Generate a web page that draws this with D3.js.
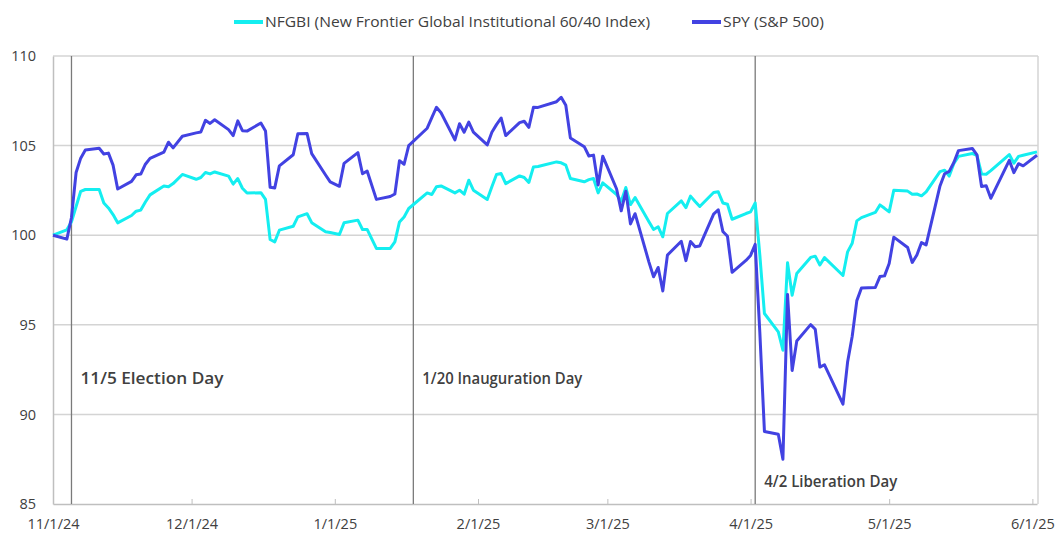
<!DOCTYPE html>
<html>
<head>
<meta charset="utf-8">
<script src="https://cdn.jsdelivr.net/npm/d3@7"></script>
<style>
  body { margin: 0; background: #fff; }
  svg text { font-family: "Open Sans", "Noto Sans", sans-serif; fill: #404040; }
</style>
</head>
<body>
<svg id="chart"></svg>
<script>
// Trading days, 11/1/24 - 6/2/25
const dates = [
  "11/1/24","11/4/24","11/5/24","11/6/24","11/7/24","11/8/24","11/11/24","11/12/24","11/13/24","11/14/24",
  "11/15/24","11/18/24","11/19/24","11/20/24","11/21/24","11/22/24","11/25/24","11/26/24","11/27/24","11/29/24",
  "12/2/24","12/3/24","12/4/24","12/5/24","12/6/24","12/9/24","12/10/24","12/11/24","12/12/24","12/13/24",
  "12/16/24","12/17/24","12/18/24","12/19/24","12/20/24","12/23/24","12/24/24","12/26/24","12/27/24","12/30/24","12/31/24",
  "1/2/25","1/3/25","1/6/25","1/7/25","1/8/25","1/10/25","1/13/25","1/14/25","1/15/25","1/16/25",
  "1/17/25","1/21/25","1/22/25","1/23/25","1/24/25","1/27/25","1/28/25","1/29/25","1/30/25","1/31/25",
  "2/3/25","2/4/25","2/5/25","2/6/25","2/7/25","2/10/25","2/11/25","2/12/25","2/13/25","2/14/25",
  "2/18/25","2/19/25","2/20/25","2/21/25","2/24/25","2/25/25","2/26/25","2/27/25","2/28/25",
  "3/3/25","3/4/25","3/5/25","3/6/25","3/7/25","3/10/25","3/11/25","3/12/25","3/13/25","3/14/25",
  "3/17/25","3/18/25","3/19/25","3/20/25","3/21/25","3/24/25","3/25/25","3/26/25","3/27/25","3/28/25","3/31/25",
  "4/1/25","4/2/25","4/3/25","4/4/25","4/7/25","4/8/25","4/9/25","4/10/25","4/11/25","4/14/25",
  "4/15/25","4/16/25","4/17/25","4/21/25","4/22/25","4/23/25","4/24/25","4/25/25","4/28/25","4/29/25","4/30/25",
  "5/1/25","5/2/25","5/5/25","5/6/25","5/7/25","5/8/25","5/9/25","5/12/25","5/13/25","5/14/25",
  "5/15/25","5/16/25","5/19/25","5/20/25","5/21/25","5/22/25","5/23/25","5/27/25","5/28/25","5/29/25","5/30/25",
  "6/2/25"
];

// NFGBI (New Frontier Global Institutional 60/40 Index), rebased to 100
const nfgbi = [
  100.00,100.30,100.75,101.60,102.45,102.55,102.55,101.80,101.52,101.15,
  100.69,101.10,101.34,101.40,101.85,102.25,102.75,102.70,102.88,103.39,
  103.12,103.22,103.50,103.42,103.53,103.30,102.85,103.16,102.62,102.35,
  102.37,102.00,99.76,99.63,100.28,100.50,101.02,101.20,100.70,100.19,100.15,
  100.04,100.69,100.84,100.32,100.32,99.26,99.26,99.63,100.74,101.02,
  101.49,102.36,102.27,102.70,102.75,102.36,102.51,102.29,103.07,102.51,
  101.99,102.70,103.39,103.44,102.88,103.31,103.22,102.94,103.81,103.83,
  104.09,104.04,103.91,103.16,102.98,103.10,103.16,102.36,102.92,
  102.27,101.90,102.66,101.71,102.10,100.75,100.32,100.47,99.91,101.21,
  101.92,101.54,102.18,101.88,101.60,102.38,102.42,101.80,101.73,100.89,101.21,
  101.30,101.80,98.90,95.63,94.60,93.58,98.46,96.65,97.86,98.76,
  98.83,98.34,98.75,97.75,99.07,99.55,100.80,100.98,101.27,101.69,101.50,
  101.30,102.51,102.46,102.28,102.30,102.20,102.42,103.55,103.63,103.30,
  104.00,104.40,104.56,104.46,103.42,103.40,103.60,104.50,104.02,104.40,104.46,
  104.65
];

// SPY (S&P 500), rebased to 100
const spy = [
  100.00,99.78,100.99,103.50,104.30,104.75,104.85,104.53,104.58,103.91,
  102.58,103.00,103.37,103.41,103.96,104.29,104.64,105.19,104.87,105.52,
  105.71,105.76,106.41,106.24,106.44,105.89,105.56,106.38,105.83,105.81,
  106.26,105.82,102.67,102.64,103.87,104.49,105.66,105.67,104.55,103.36,102.98,
  102.73,104.01,104.61,103.43,103.58,102.00,102.16,102.30,104.16,103.96,
  105.00,105.97,106.56,107.14,106.83,105.32,106.22,105.75,106.31,105.75,
  105.04,105.74,106.17,106.54,105.56,106.28,106.36,106.02,107.14,107.13,
  107.45,107.70,107.25,105.42,104.94,104.42,104.47,102.80,104.41,
  102.58,101.36,102.45,100.63,101.20,98.50,97.68,98.20,96.89,98.89,
  99.66,98.58,99.65,99.36,99.40,101.18,101.42,100.21,99.94,97.93,98.59,
  98.87,99.49,94.59,89.05,88.89,87.50,96.69,92.45,94.10,95.01,
  94.75,92.64,92.77,90.57,92.92,94.36,96.35,97.05,97.08,97.69,97.73,
  98.42,99.89,99.31,98.48,98.90,99.59,99.46,102.75,103.43,103.56,
  104.06,104.72,104.84,104.48,102.72,102.76,102.06,104.18,103.49,103.99,103.87,
  104.46
];

const seriesNames = ["NFGBI (New Frontier Global Institutional 60/40 Index)", "SPY (S&P 500)"];
const yTicks = [85, 90, 95, 100, 105, 110];
// the inauguration line sits a little left of 1/20 in the original
const eventDates = ["11/5/24", "1/18/25", "4/2/25"];
const eventLabels = ["11/5 Election Day", "1/20 Inauguration Day", "4/2 Liberation Day"];

const width = 1055, height = 546;
const plotLeft = 53, plotRight = 1038, plotTop = 56, plotBottom = 504;
const colors = ["#14eef0", "#4242e2"];

const parse = d3.timeParse("%m/%d/%y");
const xDates = dates.map(parse);

const svg = d3.select("#chart").attr("width", width).attr("height", height);

const x = d3.scaleTime()
  .domain([parse("11/1/24"), parse("6/2/25")])
  .range([plotLeft, 1037]);
const y = d3.scaleLinear().domain([85, 110]).range([plotBottom, plotTop]);

// gridlines
svg.append("g").selectAll("line")
  .data(yTicks.filter(d => d > 85))
  .enter().append("line")
  .attr("x1", plotLeft).attr("x2", plotRight)
  .attr("y1", d => y(d)).attr("y2", d => y(d))
  .attr("stroke", "#d4d4d4").attr("stroke-width", 1.5);

// right border of plot area
svg.append("line")
  .attr("x1", plotRight).attr("x2", plotRight).attr("y1", plotTop).attr("y2", plotBottom)
  .attr("stroke", "#d4d4d4").attr("stroke-width", 1.5);

// axes
const yAxis = svg.append("g")
  .attr("transform", `translate(${plotLeft},0)`)
  .call(d3.axisLeft(y).tickValues(yTicks).tickSize(0).tickPadding(17));
yAxis.select(".domain").attr("stroke", "#bfbfbf").attr("stroke-width", 1.5);
yAxis.selectAll("text").style("font-size", "14.5px").attr("fill", "#3a3a3a");

const xAxis = svg.append("g")
  .attr("transform", `translate(0,${plotBottom})`)
  .call(d3.axisBottom(x)
    .ticks(d3.timeMonth.every(1))
    .tickFormat(d3.timeFormat("%-m/%-d/%y"))
    .tickSizeInner(-5).tickSizeOuter(0).tickPadding(15));
xAxis.select(".domain").attr("stroke", "#bfbfbf").attr("stroke-width", 1.5);
xAxis.selectAll(".tick line").attr("stroke", "#bfbfbf");
xAxis.selectAll("text").style("font-size", "14.5px").attr("fill", "#3a3a3a");

// event lines
svg.append("g").selectAll("line")
  .data(eventDates)
  .enter().append("line")
  .attr("x1", d => x(parse(d))).attr("x2", d => x(parse(d)))
  .attr("y1", plotTop).attr("y2", plotBottom)
  .attr("stroke", "#7a7a7a").attr("stroke-width", 1.3);

// event labels
const labelY = [91.7, 91.7, 85.95];
const labelW = [143, 160, 133];
svg.append("g").selectAll("text")
  .data(eventLabels)
  .enter().append("text")
  .attr("x", (d, i) => x(parse(eventDates[i])) + 9)
  .attr("y", (d, i) => y(labelY[i]))
  .attr("textLength", (d, i) => labelW[i])
  .attr("lengthAdjust", "spacingAndGlyphs")
  .style("font-size", "15.5px")
  .style("font-weight", 600)
  .attr("fill", "#2b2b2b")
  .text(d => d);

// lines
const line = d3.line()
  .x((d, i) => x(xDates[i]))
  .y(d => y(d));

[nfgbi, spy].forEach((s, i) => {
  svg.append("path")
    .datum(s)
    .attr("fill", "none")
    .attr("stroke", colors[i])
    .attr("stroke-width", 3)
    .attr("stroke-linejoin", "round")
    .attr("d", line);
});

// legend
const legendX = [234, 692];
const legendW = [385, 101];
const legend = svg.append("g").selectAll("g")
  .data(seriesNames)
  .enter().append("g")
  .attr("transform", (d, i) => `translate(${legendX[i]},22)`);

legend.append("line")
  .attr("x1", 0).attr("x2", 29)
  .attr("stroke", (d, i) => colors[i])
  .attr("stroke-width", 4);

legend.append("text")
  .attr("x", 31)
  .attr("y", 5)
  .attr("textLength", (d, i) => legendW[i])
  .attr("lengthAdjust", "spacingAndGlyphs")
  .style("font-size", "14px")
  .attr("fill", "#3a3a3a")
  .text(d => d);
</script>
</body>
</html>
